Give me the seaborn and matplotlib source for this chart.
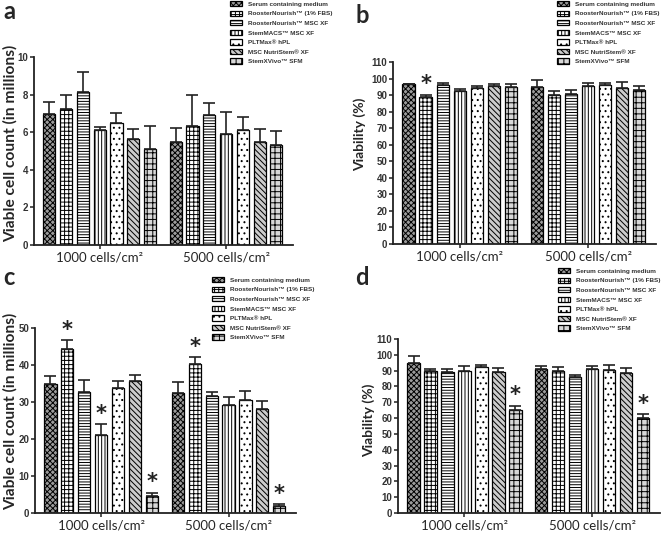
import numpy as np
import pandas as pd
import matplotlib
matplotlib.use("Agg")
import matplotlib.pyplot as plt
from matplotlib.container import BarContainer
import seaborn as sns

sns.set_style("white")
plt.rcParams["hatch.linewidth"] = 0.7

# ---------------- data ----------------
densities = ["1000 cells/cm²", "5000 cells/cm²"]
media = ["Serum containing medium", "RoosterNourish™ (1% FBS)", "RoosterNourish™ MSC XF",
         "StemMACS™ MSC XF", "PLTMax® hPL", "MSC NutriStem® XF", "StemXVivo™ SFM"]

# panel a: viable cell count (millions)
a_mean_1000 = [6.95, 7.22, 8.12, 6.12, 6.47, 5.63, 5.10]
a_sd_1000 = [0.65, 0.76, 1.06, 0.15, 0.57, 0.55, 1.25]
a_mean_5000 = [5.47, 6.35, 6.92, 5.88, 6.12, 5.50, 5.33]
a_sd_5000 = [0.77, 1.65, 0.61, 1.18, 0.69, 0.68, 0.73]

# panel b: viability (%)
b_mean_1000 = [96.6, 88.7, 96.0, 92.2, 94.2, 95.2, 94.8]
b_sd_1000 = [0.4, 1.3, 1.5, 1.4, 1.5, 1.4, 2.2]
b_mean_5000 = [95.0, 90.3, 90.8, 95.5, 96.3, 94.4, 93.1]
b_sd_5000 = [4.3, 2.3, 2.1, 1.9, 0.9, 3.4, 2.6]

# panel c: viable cell count (millions)
c_mean_1000 = [34.8, 44.2, 32.6, 21.1, 33.8, 35.6, 4.7]
c_sd_1000 = [2.3, 2.5, 3.3, 2.9, 1.8, 1.6, 0.8]
c_mean_5000 = [32.3, 40.4, 31.6, 29.2, 30.6, 28.1, 2.0]
c_sd_5000 = [3.2, 1.7, 1.0, 2.2, 2.4, 2.3, 0.3]

# panel d: viability (%)
d_mean_1000 = [95.0, 90.0, 89.0, 89.8, 92.0, 89.3, 65.0]
d_sd_1000 = [4.0, 1.0, 1.8, 3.0, 1.8, 2.5, 2.8]
d_mean_5000 = [91.0, 89.8, 86.0, 91.2, 90.5, 88.8, 60.0]
d_sd_5000 = [2.2, 2.5, 1.0, 1.8, 3.3, 2.6, 2.4]

# significance markers: (density index, medium index)
b_sig = [(0, 1)]
c_sig = [(0, 1), (0, 3), (0, 6), (1, 1), (1, 6)]
d_sig = [(0, 6), (1, 6)]

# ---------------- styles ----------------
faces = ["#9c9c9c", "#ffffff", "#ffffff", "#ffffff", "#ffffff", "#cccccc", "#d8d8d8"]
hatches = ["xxxxxx", "++++", "------", "|||||", "...", "\\\\\\\\\\\\", "+++"]

W, H = 669, 534
fig = plt.figure(figsize=(W / 100, H / 100), dpi=100)


def px_axes(l, r, t, b):
    return fig.add_axes([l / W, 1 - b / H, (r - l) / W, (b - t) / H])


def panel(ax, m1000, s1000, m5000, s5000, ymax, ystep, ylabel, ylsize, lab_xy, sig,
          leg_xy, label_x, label_y):
    df = pd.DataFrame({
        "density": [densities[0]] * len(media) + [densities[1]] * len(media),
        "medium": media + media,
        "value": m1000 + m5000,
        "sd": s1000 + s5000,
    })
    sns.barplot(data=df, x="density", y="value", hue="medium", order=densities,
                hue_order=media, palette=faces, width=0.93, gap=0.28,
                errorbar=None, legend=False, ax=ax, saturation=1,
                edgecolor="black", linewidth=0.9)
    bars = [c for c in ax.containers if isinstance(c, BarContainer)]
    for i, cont in enumerate(bars):
        for p in cont.patches:
            p.set_hatch(hatches[i])
            p.set_edgecolor("black")
        sub = df[df["medium"] == media[i]].set_index("density").loc[densities]
        xs = [p.get_x() + p.get_width() / 2 for p in cont.patches]
        ys = [p.get_height() for p in cont.patches]
        sd = sub["sd"].to_numpy()
        ax.errorbar(xs, ys, yerr=[np.zeros_like(sd), sd], fmt="none", ecolor="#222222",
                    elinewidth=1.2, capsize=4.5, capthick=1.2, zorder=1)
        for (g, mi) in sig:
            if mi == i:
                p = cont.patches[g]
                top = p.get_height() + sd[g]
                ax.annotate("*", (p.get_x() + p.get_width() / 2, top),
                            xytext=(0, 0.5), textcoords="offset points",
                            ha="center", va="bottom", fontsize=15,
                            fontweight="bold", color="#222222")
    ax.set_ylim(0, ymax)
    ax.set_xlim(-0.52, 1.53)
    ax.set_yticks(np.arange(0, ymax + 0.01, ystep))
    ax.set_xlabel("")
    ax.set_ylabel(ylabel, fontsize=ylsize, fontweight="bold", family="Lato")
    ax.yaxis.set_label_coords(label_x, label_y)
    sns.despine(ax=ax)
    for s in ["left", "bottom"]:
        ax.spines[s].set_linewidth(1.3)
        ax.spines[s].set_color("#222222")
    ax.tick_params(axis="y", direction="out", length=3, width=1.1, pad=1,
                   labelsize=7, left=True, color="#222222")
    ax.tick_params(axis="x", direction="out", length=3, width=1.1, pad=2,
                   labelsize=9.5, bottom=True, color="#222222")
    for t in ax.get_yticklabels():
        t.set_fontweight("bold")
        t.set_family("Liberation Sans")
        t.set_color("#333333")
    for t in ax.get_xticklabels():
        t.set_family("Lato")
    leg = ax.legend(handles=bars, labels=media,
                    loc="upper left", bbox_to_anchor=(leg_xy[0] / W, 1 - leg_xy[1] / H),
                    bbox_transform=fig.transFigure, frameon=False, borderpad=0,
                    borderaxespad=0, handlelength=1.85, handleheight=0.9,
                    handletextpad=0.9, labelspacing=0.58,
                    prop={"family": "Liberation Sans", "weight": "bold", "size": 4.6})
    for t in leg.get_texts():
        t.set_color("#333333")
    fig.text(lab_xy[0] / W, 1 - lab_xy[1] / H, lab_xy[2], fontsize=17,
             fontweight="bold", family="Lato", va="baseline", ha="left")


ax_a = px_axes(34, 293, 57, 245)
panel(ax_a, a_mean_1000, a_sd_1000, a_mean_5000, a_sd_5000, 10, 2,
      "Viable cell count (in millions)", 11.2, (3, 19, "a"), [], (230, 1),
      -0.062, 0.54)

ax_b = px_axes(393, 656, 62, 244)
panel(ax_b, b_mean_1000, b_sd_1000, b_mean_5000, b_sd_5000, 110, 10,
      "Viability (%)", 10, (355, 23, "b"), b_sig, (557, 1), -0.103, 0.6)

ax_c = px_axes(35, 296, 328, 513)
panel(ax_c, c_mean_1000, c_sd_1000, c_mean_5000, c_sd_5000, 50, 10,
      "Viable cell count (in millions)", 11.2, (3, 285, "c"), c_sig, (212, 277),
      -0.065, 0.55)

ax_d = px_axes(398, 660, 339, 513)
panel(ax_d, d_mean_1000, d_sd_1000, d_mean_5000, d_sd_5000, 110, 10,
      "Viability (%)", 10, (355, 285, "d"), d_sig, (558, 268), -0.088, 0.53)

fig.savefig("out.png", dpi=100)
